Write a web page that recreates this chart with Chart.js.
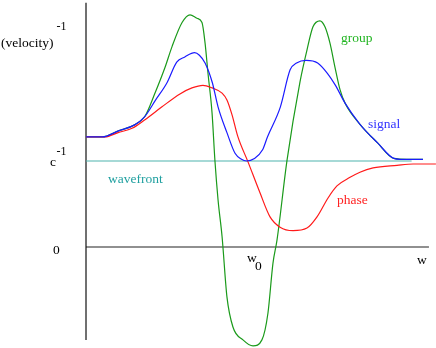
<!DOCTYPE html>
<html lang="en">
<head>
  <meta charset="UTF-8">
  <title>Velocity vs frequency</title>
  <script src="https://cdn.jsdelivr.net/npm/chart.js"></script>
  <style>
    html, body { margin: 0; padding: 0; background: #fff; }
    #wrap { width: 436px; height: 348px; position: relative; }
  </style>
</head>
<body>
  <div id="wrap"><canvas id="velChart"></canvas></div>

  <script>
    // frequency w (w0 = 1) and inverse velocity (c^-1 = 1)
    const signalW = [0, 0.10, 0.20, 0.30, 0.36, 0.43, 0.50, 0.56, 0.61, 0.67, 0.70, 0.735, 0.78, 0.815, 0.87, 0.92, 0.96, 0.99, 1.04, 1.09, 1.12, 1.20, 1.26, 1.30, 1.36, 1.43, 1.49, 1.54, 1.60, 1.69, 1.80, 1.90, 1.94, 1.98, 2.08];
    const signalV = [1.28, 1.28, 1.35, 1.42, 1.51, 1.71, 1.91, 2.15, 2.21, 2.26, 2.23, 2.14, 1.91, 1.63, 1.33, 1.09, 1.02, 1.00, 1.03, 1.13, 1.28, 1.63, 2.06, 2.14, 2.17, 2.14, 2.02, 1.88, 1.67, 1.43, 1.21, 1.03, 1.02, 1.02, 1.02];

    const groupW = [0, 0.10, 0.20, 0.30, 0.364, 0.426, 0.488, 0.531, 0.593, 0.642, 0.685, 0.716, 0.735, 0.753, 0.778, 0.796, 0.815, 0.840, 0.870, 0.907, 0.969, 1.031, 1.086, 1.123, 1.154, 1.179, 1.241, 1.321, 1.364, 1.401, 1.444, 1.475, 1.506, 1.537, 1.568, 1.60, 1.69, 1.80, 1.90, 1.98, 2.08];
    const groupV = [1.28, 1.28, 1.35, 1.42, 1.52, 1.79, 2.09, 2.33, 2.61, 2.70, 2.66, 2.61, 2.37, 2.02, 1.56, 1.00, 0.55, 0.12, -0.58, -0.93, -1.08, -1.15, -1.08, -0.77, -0.19, 0.08, 1.01, 1.92, 2.29, 2.56, 2.63, 2.56, 2.37, 2.09, 1.83, 1.67, 1.43, 1.21, 1.03, 1.02, 1.02];

    const phaseW = [0, 0.117, 0.198, 0.284, 0.364, 0.469, 0.580, 0.654, 0.722, 0.778, 0.840, 0.870, 0.901, 0.938, 1.0, 1.074, 1.136, 1.198, 1.278, 1.364, 1.426, 1.494, 1.549, 1.630, 1.691, 1.772, 1.920, 2.019, 2.160];
    const phaseV = [1.28, 1.28, 1.33, 1.38, 1.48, 1.63, 1.78, 1.85, 1.88, 1.85, 1.79, 1.71, 1.54, 1.28, 0.99, 0.63, 0.35, 0.23, 0.19, 0.22, 0.35, 0.57, 0.71, 0.81, 0.87, 0.92, 0.95, 0.965, 0.965];

    const wavefrontW = [0, 2.01];
    const wavefrontV = [1, 1];

    function pts(xs, ys) {
      return xs.map((x, i) => ({ x: x, y: ys[i] }));
    }

    // text annotations, placed in data units
    const notes = [
      { text: '(velocity)', w: -0.525, v: 2.326, color: '#000', size: 13.5 },
      { text: '-1', w: -0.182, v: 2.52, color: '#000', size: 12 },
      { text: 'c', w: -0.222, v: 0.942, color: '#000', size: 13.5 },
      { text: '-1', w: -0.182, v: 1.07, color: '#000', size: 12 },
      { text: '0', w: -0.204, v: -0.081, color: '#000', size: 13.5 },
      { text: 'w', w: 0.994, v: -0.174, color: '#000', size: 13.5 },
      { text: '0', w: 1.043, v: -0.267, color: '#000', size: 13.5 },
      { text: 'w', w: 2.043, v: -0.198, color: '#000', size: 13.5 },
      { text: 'wavefront', w: 0.136, v: 0.744, color: '#20a0a0', size: 13.5 },
      { text: 'group', w: 1.574, v: 2.384, color: '#22b522', size: 13.5 },
      { text: 'signal', w: 1.741, v: 1.384, color: '#3333ff', size: 13.5 },
      { text: 'phase', w: 1.549, v: 0.50, color: '#ff2222', size: 13.5 }
    ];

    const notesPlugin = {
      id: 'notes',
      afterDatasetsDraw(chart) {
        const ctx = chart.ctx;
        const xs = chart.scales.x, ys = chart.scales.y;
        ctx.save();
        ctx.textBaseline = 'alphabetic';
        ctx.textAlign = 'left';
        notes.forEach(n => {
          ctx.font = n.size + 'px "Liberation Serif", "DejaVu Serif", serif';
          ctx.fillStyle = n.color;
          ctx.fillText(n.text, xs.getPixelForValue(n.w), ys.getPixelForValue(n.v));
        });
        ctx.restore();
      }
    };

    const lineStyle = {
      showLine: true,
      pointRadius: 0,
      pointHoverRadius: 0,
      borderWidth: 1.2,
      fill: false,
      cubicInterpolationMode: 'monotone'
    };

    const ctx = document.getElementById('velChart').getContext('2d');
    const velChart = new Chart(ctx, {
      type: 'scatter',
      data: {
        datasets: [
          Object.assign({ label: 'signal', data: pts(signalW, signalV), borderColor: '#1a1aff', order: 1 }, lineStyle),
          Object.assign({ label: 'phase', data: pts(phaseW, phaseV), borderColor: '#ff1a1a', order: 2 }, lineStyle),
          Object.assign({ label: 'group', data: pts(groupW, groupV), borderColor: '#1a9a1a', order: 3 }, lineStyle),
          Object.assign({ label: 'wavefront', data: pts(wavefrontW, wavefrontV), borderColor: '#4fb3ad', order: 4 }, lineStyle),
          Object.assign({ label: 'v axis', data: [{ x: 0, y: 2.84 }, { x: 0, y: -1.08 }], borderColor: '#111', order: 5 }, lineStyle),
          Object.assign({ label: 'w axis', data: [{ x: 0, y: 0 }, { x: 2.117, y: 0 }], borderColor: '#222', order: 5 }, lineStyle)
        ]
      },
      options: {
        responsive: true,
        maintainAspectRatio: false,
        animation: false,
        layout: { padding: 0 },
        plugins: {
          legend: { display: false },
          tooltip: { enabled: false }
        },
        scales: {
          x: { type: 'linear', min: -0.5309, max: 2.1605, display: false },
          y: { type: 'linear', min: -1.1744, max: 2.8721, display: false }
        }
      },
      plugins: [notesPlugin]
    });
  </script>
</body>
</html>
